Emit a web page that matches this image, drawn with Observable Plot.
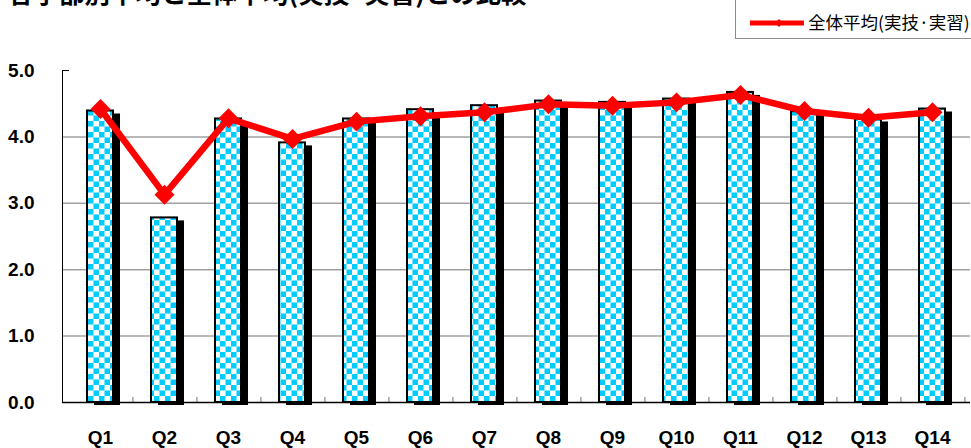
<!DOCTYPE html>
<html>
<head>
<meta charset="utf-8">
<script src="https://cdn.jsdelivr.net/npm/d3@7"></script>
<script src="https://cdn.jsdelivr.net/npm/@observablehq/plot@0.6"></script>
<style>
  html, body { margin: 0; padding: 0; background: #fff; }
  #wrap { position: relative; width: 971px; height: 448px; overflow: hidden; }
  #title { position: absolute; left: 8px; top: -21px; font: bold 25.5px "Noto Sans CJK JP", sans-serif; line-height: 25px; white-space: nowrap; color: #000; }
  #legend { position: absolute; left: 735px; top: -2px; width: 250px; height: 41px; border: 1px solid #8c8c8c; box-sizing: border-box; background: #fff; }
  #legend svg { position: absolute; left: 12px; top: 18px; }
  #legend span { position: absolute; left: 72px; top: 13px; font: 17.5px "Noto Sans CJK JP", sans-serif; line-height: 20px; white-space: nowrap; color: #000; }
  #chart { position: absolute; left: 0; top: 0; }
</style>
</head>
<body>
<div id="wrap">
  <div id="chart"></div>
  <div id="title">各学部別平均と全体平均(実技·実習)との比較</div>
  <div id="legend">
    <svg width="58" height="12"><line x1="2" y1="6" x2="56" y2="6" stroke="#ff0000" stroke-width="5"/><path d="M31,2 L35,6 L31,10 L27,6 Z" fill="#ff0000"/></svg>
    <span id="legendText">全体平均(実技·実習)</span>
  </div>
</div>
<script>
const categories = ["Q1","Q2","Q3","Q4","Q5","Q6","Q7","Q8","Q9","Q10","Q11","Q12","Q13","Q14"];
const facultyAvg = [4.39, 2.78, 4.27, 3.91, 4.27, 4.41, 4.47, 4.54, 4.52, 4.57, 4.67, 4.38, 4.27, 4.42];
const overallAvg = [4.42, 3.13, 4.28, 3.97, 4.23, 4.31, 4.37, 4.49, 4.47, 4.52, 4.63, 4.39, 4.29, 4.37];
const yTicks = [0, 1, 2, 3, 4, 5];
const gridTicks = [1, 2, 3, 4];
const seriesName = "全体平均(実技·実習)";

const bars = categories.map((q, i) => ({q, v: facultyAvg[i]}));
const line = categories.map((q, i) => ({q, v: overallAvg[i]}));

const W = 971, H = 448, mL = 62, mR = 1, mT = 70, mB = 46;
const innerW = W - mL - mR, innerH = H - mT - mB;
const step = innerW / categories.length;
const numFont = '"Liberation Sans", Arial, sans-serif';

const chart = Plot.plot({
  width: W, height: H,
  marginLeft: mL, marginRight: mR, marginTop: mT, marginBottom: mB,
  style: {fontFamily: numFont, background: "transparent"},
  x: {domain: categories, paddingInner: 0.6, paddingOuter: 0.3, label: null},
  y: {domain: [0, 5], label: null},
  marks: [
    Plot.gridY(gridTicks, {stroke: "#a0a0a0", strokeOpacity: 1, strokeWidth: 1.5}),
    Plot.frame({anchor: "left", stroke: "#000", strokeWidth: 1}),
    Plot.axisY(yTicks, {tickSize: 0, tickPadding: 28, tickFormat: d => d.toFixed(1), fontSize: 19, fontWeight: "bold", fill: "#000"}),
    Plot.ruleY([yTicks[yTicks.length - 1]], {stroke: "#000", strokeWidth: 1, insetRight: innerW - 7}),
    Plot.tickX(categories, {x: d => d, dx: step / 2, insetTop: innerH - 5, stroke: "#777"}),
    Plot.barY(bars, {x: "q", y: "v", fill: "#000", dx: 7, dy: 3}),
    Plot.barY(bars, {x: "q", y: "v", fill: "url(#checker)", stroke: "#000", strokeWidth: 2}),
    Plot.ruleY([0], {stroke: "#000", strokeWidth: 1.5}),
    Plot.axisX({tickSize: 0, tickPadding: 28, fontSize: 19, fontWeight: "bold", fill: "#000"}),
    Plot.line(line, {x: "q", y: "v", stroke: "#ff0000", strokeWidth: 6.5}),
    Plot.dot(line, {x: "q", y: "v", symbol: "diamond2", r: 9, fill: "#ff0000", stroke: "none"})
  ]
});

const svg = d3.select(chart);
const defs = svg.insert("defs", ":first-child");
const pat = defs.append("pattern").attr("id", "checker").attr("patternUnits", "userSpaceOnUse")
  .attr("width", 11).attr("height", 11);
pat.append("rect").attr("width", 11).attr("height", 11).attr("fill", "#ffffff");
pat.append("rect").attr("width", 5.5).attr("height", 5.5).attr("fill", "#00ccff");
pat.append("rect").attr("x", 5.5).attr("y", 5.5).attr("width", 5.5).attr("height", 5.5).attr("fill", "#00ccff");

document.getElementById("chart").appendChild(chart);
document.getElementById("legendText").textContent = seriesName;
</script>
</body>
</html>
